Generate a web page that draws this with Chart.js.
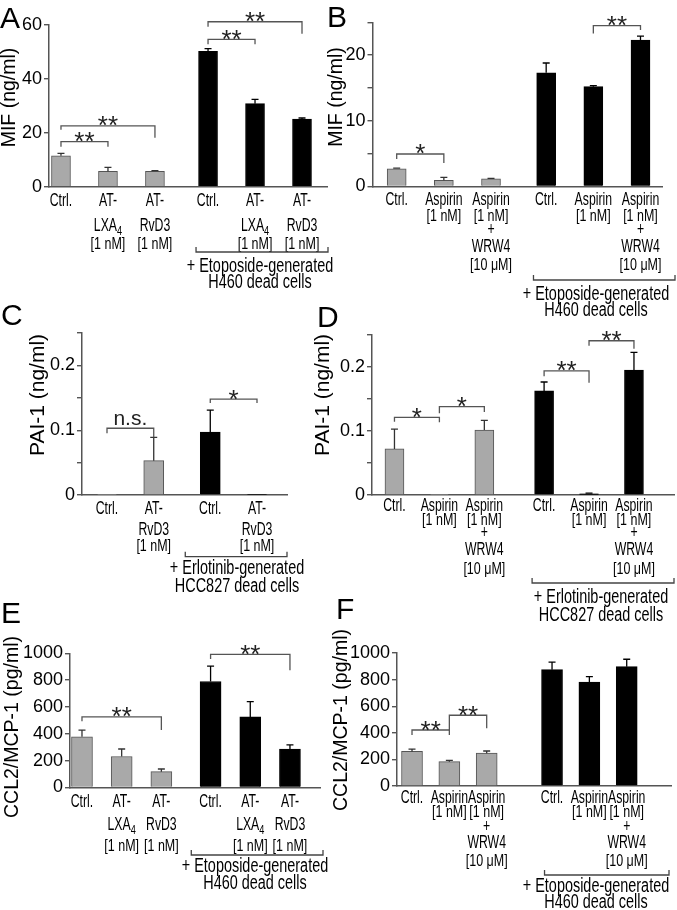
<!DOCTYPE html>
<html>
<head>
<meta charset="utf-8">
<script src="https://cdn.jsdelivr.net/npm/chart.js@4.4.0/dist/chart.umd.min.js"></script>
<style>
  html, body { margin: 0; padding: 0; background: #fff; }
  #wrap { position: relative; width: 677px; height: 910px; overflow: hidden; }
  #wrap canvas { position: absolute; left: 0; top: 0; }
</style>
</head>
<body>
<div id="wrap">
  <canvas id="cA" width="677" height="910"></canvas>
  <canvas id="cB" width="677" height="910"></canvas>
  <canvas id="cC" width="677" height="910"></canvas>
  <canvas id="cD" width="677" height="910"></canvas>
  <canvas id="cE" width="677" height="910"></canvas>
  <canvas id="cF" width="677" height="910"></canvas>
</div>
<script>
// categories (one array of text lines per bar, "_" marks a subscript)
const catsLipid = [['Ctrl.'], ['AT-', 'LXA_4', '[1 nM]'], ['AT-', 'RvD3', '[1 nM]'],
                   ['Ctrl.'], ['AT-', 'LXA_4', '[1 nM]'], ['AT-', 'RvD3', '[1 nM]']];
const catsAspirin = [['Ctrl.'], ['Aspirin', '[1 nM]'], ['Aspirin', '[1 nM]', '+', 'WRW4', '[10 μM]'],
                     ['Ctrl.'], ['Aspirin', '[1 nM]'], ['Aspirin', '[1 nM]', '+', 'WRW4', '[10 μM]']];
const catsRvD3 = [['Ctrl.'], ['AT-', 'RvD3', '[1 nM]'], ['Ctrl.'], ['AT-', 'RvD3', '[1 nM]']];
const groupsSix = [0, 0, 0, 1, 1, 1];   // 0 = untreated, 1 = + dead cells
const groupsFour = [0, 0, 1, 1];
const captionEtoposide = ['+ Etoposide-generated', 'H460 dead cells'];
const captionErlotinib = ['+ Erlotinib-generated', 'HCC827 dead cells'];

// values (mean) and error (upper SEM)
const mifA = [11.5, 5.7, 5.7, 50.2, 30.8, 25.1];
const mifAErr = [0.9, 1.5, 0.3, 1.0, 1.6, 0.4];
const mifB = [2.7, 0.95, 1.15, 17.3, 15.2, 22.3];
const mifBErr = [0.1, 0.45, 0.1, 1.5, 0.15, 0.6];
const paiC = [0.001, 0.053, 0.097, 0.001];
const paiCErr = [0, 0.036, 0.034, 0];
const paiD = [0.072, 0.001, 0.1015, 0.1626, 0.002, 0.195];
const paiDErr = [0.031, 0, 0.015, 0.014, 0.001, 0.028];
const ccl2E = [378, 231, 118, 790, 526, 287];
const ccl2EErr = [50, 56, 20, 114, 114, 30];
const ccl2F = [260, 183, 247, 875, 782, 897];
const ccl2FErr = [17, 10, 16, 56, 40, 56];

// significance: [from bar, to bar, mark]
const sigA = [[0, 1, '**'], [0, 2, '**'], [3, 4, '**'], [3, 5, '**']];
const sigB = [[0, 1, '*'], [4, 5, '**']];
const sigC = [[0, 1, 'n.s.'], [2, 3, '*']];
const sigD = [[0, 1, '*'], [1, 2, '*'], [3, 4, '**'], [4, 5, '**']];
const sigE = [[0, 2, '**'], [3, 5, '**']];
const sigF = [[0, 1, '**'], [1, 2, '**']];

// labelled y ticks
const ticksMifA = ['0', '20', '40', '60'];
const ticksMifB = ['0', '10', '20'];
const ticksPai = ['0', '0.1', '0.2'];
const ticksCcl2 = ['0', '200', '400', '600', '800', '1000'];

// ---- layout (pixels / positions only) ----
const layoutA = { area: [49, 25, 327, 186.7], xMin: -0.255, xMax: 5.662, gap: 0.13, bar: 19,
  brackets: [{ y: 16.7, l: 5, r: 5 }, { y: 22.6, l: 4, r: 12 }, { y: 54.7, l: 5, r: 5 }, { y: 61.2, l: 5, r: 12 }],
  lines: [14.5, 39, 58], gx0: -12, gx1: 1, gy: 65.3, capY: [80.3, 96.3], capX: 260,
  title: [10, 97.5, 19.5], letter: [0, 28] };
const layoutB = { area: [372.5, 22.3, 662, 186.5], xMin: -0.513, xMax: 5.626, gap: 0.17, bar: 19,
  brackets: [{ y: 4.95, l: 5, r: 9 }, { y: 24.5, l: 8, r: 4.5 }],
  lines: [13.5, 30, 43.5, 60.5, 79.5], gx0: -12.7, gx1: 13, gy: 93.5, capY: [108.5, 124.5], capX: 596,
  title: [337, 97, 19.5], letter: [327, 27] };
const layoutC = { area: [82, 333, 287, 495], xMin: -0.535, xMax: 3.852, gap: 0.21, bar: 20,
  brackets: [{ y: 0.103, l: 5, r: 9 }, { y: 0.148, l: 4, r: 4 }],
  lines: [14, 35, 52], gx0: -25, gx1: 0, gy: 61.7, capY: [74, 92], capX: 237,
  title: [38, 395, 21], letter: [1, 325] };
const layoutD = { area: [372, 335, 674, 495], xMin: -0.5, xMax: 6.221, gap: 0.33, bar: 19,
  brackets: [{ y: 0.1214, l: 4.5, r: 5 }, { y: 0.138, l: 6.5, r: 5.3 }, { y: 0.194, l: 5.3, r: 12 }, { y: 0.241, l: 5, r: 8 }],
  lines: [11, 26, 38, 55, 75], gx0: -12, gx1: 0, gy: 88, capY: [103, 121], capX: 601,
  title: [323, 395, 21], letter: [317, 327] };
const layoutE = { area: [70, 653.3, 320, 787.5], xMin: -0.302, xMax: 5.997, gap: 0.24, bar: 21,
  brackets: [{ y: 527, l: 4.5, r: 13.3 }, { y: 992, l: 4.7, r: 16 }],
  lines: [15, 38, 59], gx0: -19.3, gx1: 3, gy: 67.5, capY: [79, 96.5], capX: 255,
  title: [12.5, 727, 19.5], letter: [1, 623] };
const layoutF = { area: [397, 653, 671, 786], xMin: -0.402, xMax: 6.936, gap: 0.75, bar: 21,
  brackets: [{ y: 421, l: 5, r: 5 }, { y: 532, l: 15, r: 13 }],
  lines: [12, 27, 41, 57, 76], gx0: -7.5, gx1: -2, gy: 89, capY: [101, 117], capX: 596,
  title: [342, 720, 19.5], letter: [336, 619] };

const FONT = '"Liberation Sans", Arial, Helvetica, sans-serif';
const W = 677, H = 910;
Chart.defaults.font.family = FONT;

// draw condensed text centred at x, with optional subscript after "_"
function drawText(ctx, str, x, y, size, sx) {
  ctx.save();
  const k = str.indexOf('_');
  const main = k >= 0 ? str.slice(0, k) : str;
  const sub = k >= 0 ? str.slice(k + 1) : '';
  ctx.font = size + 'px ' + FONT;
  const wMain = ctx.measureText(main).width;
  ctx.font = (size * 0.75) + 'px ' + FONT;
  const wSub = sub ? ctx.measureText(sub).width : 0;
  const total = (wMain + wSub) * sx;
  ctx.translate(x - total / 2, y);
  ctx.scale(sx, 1);
  ctx.textAlign = 'left';
  ctx.textBaseline = 'middle';
  ctx.fillStyle = '#000';
  ctx.font = size + 'px ' + FONT;
  ctx.fillText(main, 0, 0);
  if (sub) {
    ctx.font = (size * 0.75) + 'px ' + FONT;
    ctx.fillText(sub, wMain, size * 0.3);
  }
  ctx.restore();
}

function makePanel(id, P) {
  const L = P.layout;
  const pos = P.values.map((v, i) => i + L.gap * P.groups[i]);
  const tickVals = P.ticks.map(Number);

  const annot = {
    id: 'annot' + id,
    afterDraw(chart) {
      const ctx = chart.ctx, xs = chart.scales.x, ys = chart.scales.y;
      const base = ys.getPixelForValue(0);
      const cx = i => xs.getPixelForValue(pos[i]);
      ctx.save();
      // error bars
      P.errors.forEach((e, i) => {
        if (!e) return;
        const x = cx(i);
        const y0 = ys.getPixelForValue(P.values[i]);
        const y1 = ys.getPixelForValue(P.values[i] + e);
        ctx.strokeStyle = P.groups[i] ? '#000' : '#333';
        ctx.lineWidth = 1.3;
        ctx.beginPath();
        ctx.moveTo(x, y0); ctx.lineTo(x, y1);
        ctx.moveTo(x - 3.5, y1); ctx.lineTo(x + 3.5, y1);
        ctx.stroke();
      });
      // significance brackets
      P.sig.forEach((s, k) => {
        const b = L.brackets[k];
        const xa = cx(s[0]), xb = cx(s[1]), y = ys.getPixelForValue(b.y);
        ctx.strokeStyle = '#555';
        ctx.lineWidth = 1.3;
        ctx.beginPath();
        ctx.moveTo(xa, y + b.l); ctx.lineTo(xa, y); ctx.lineTo(xb, y); ctx.lineTo(xb, y + b.r);
        ctx.stroke();
        ctx.fillStyle = '#222';
        ctx.textAlign = 'center';
        ctx.textBaseline = 'alphabetic';
        if (s[2] === 'n.s.') {
          ctx.font = '21px ' + FONT;
          ctx.fillText(s[2], (xa + xb) / 2, y - 3);
        } else {
          ctx.font = '26px ' + FONT;
          ctx.fillText(s[2], (xa + xb) / 2, y + 8.5);
        }
      });
      // category labels
      P.cats.forEach((lines, i) => lines.forEach((t, j) => {
        const small = t[0] === '[';
        drawText(ctx, t, cx(i), base + L.lines[j], small ? 16 : 17.5, small ? 0.78 : 0.7);
      }));
      // group bracket + caption
      const g = P.groups.indexOf(1);
      const gx0 = cx(g) + L.gx0, gx1 = chart.chartArea.right + L.gx1, gy = base + L.gy;
      ctx.strokeStyle = '#444';
      ctx.lineWidth = 1.3;
      ctx.beginPath();
      ctx.moveTo(gx0, gy - 5); ctx.lineTo(gx0, gy); ctx.lineTo(gx1, gy); ctx.lineTo(gx1, gy - 5);
      ctx.stroke();
      P.caption.forEach((t, j) => drawText(ctx, t, L.capX, base + L.capY[j], 19.5, 0.74));
      // y title
      ctx.save();
      ctx.translate(L.title[0], L.title[1]);
      ctx.rotate(-Math.PI / 2);
      ctx.font = L.title[2] + 'px ' + FONT;
      ctx.fillStyle = '#000';
      ctx.textAlign = 'center';
      ctx.textBaseline = 'middle';
      ctx.fillText(P.title, 0, 0);
      ctx.restore();
      // panel letter
      ctx.font = '30px ' + FONT;
      ctx.fillStyle = '#000';
      ctx.textAlign = 'left';
      ctx.textBaseline = 'alphabetic';
      ctx.fillText(P.letter, L.letter[0], L.letter[1]);
      ctx.restore();
    }
  };

  return new Chart(document.getElementById(id), {
    type: 'bar',
    data: {
      datasets: [{
        data: P.values.map((v, i) => ({ x: pos[i], y: v })),
        backgroundColor: P.groups.map(g => g ? '#000' : '#a9a9a9'),
        borderColor: P.groups.map(g => g ? '#000' : '#555'),
        borderWidth: 1,
        barThickness: L.bar
      }]
    },
    options: {
      responsive: false,
      animation: false,
      devicePixelRatio: 1,
      plugins: { legend: { display: false }, tooltip: { enabled: false } },
      layout: { padding: { left: 0, top: L.area[1], right: W - L.area[2], bottom: H - L.area[3] } },
      scales: {
        x: {
          type: 'linear', min: L.xMin, max: L.xMax, offset: false,
          grid: { display: false, drawTicks: false },
          ticks: { display: false },
          border: { display: true, color: '#555', width: 1.5 },
          afterFit: s => { s.height = 0; }
        },
        y: {
          min: 0, max: P.yMax,
          ticks: {
            stepSize: P.step, padding: 2, color: '#000', font: { size: 18 },
            callback: v => {
              const k = tickVals.findIndex(t => Math.abs(t - v) < 1e-9);
              return k >= 0 ? P.ticks[k] : '';
            }
          },
          grid: { drawOnChartArea: false, drawTicks: true, tickLength: 5, color: '#555', lineWidth: 1.4 },
          border: { display: true, color: '#555', width: 1.5 },
          afterFit: s => { s.width = L.area[0]; }
        }
      }
    },
    plugins: [annot]
  });
}

makePanel('cA', { cats: catsLipid, groups: groupsSix, values: mifA, errors: mifAErr, sig: sigA,
  ticks: ticksMifA, step: 20, yMax: 60, title: 'MIF (ng/ml)', letter: 'A', caption: captionEtoposide, layout: layoutA });
makePanel('cB', { cats: catsAspirin, groups: groupsSix, values: mifB, errors: mifBErr, sig: sigB,
  ticks: ticksMifB, step: 5, yMax: 25, title: 'MIF (ng/ml)', letter: 'B', caption: captionEtoposide, layout: layoutB });
makePanel('cC', { cats: catsRvD3, groups: groupsFour, values: paiC, errors: paiCErr, sig: sigC,
  ticks: ticksPai, step: 0.05, yMax: 0.25, title: 'PAI-1 (ng/ml)', letter: 'C', caption: captionErlotinib, layout: layoutC });
makePanel('cD', { cats: catsAspirin, groups: groupsSix, values: paiD, errors: paiDErr, sig: sigD,
  ticks: ticksPai, step: 0.05, yMax: 0.25, title: 'PAI-1 (ng/ml)', letter: 'D', caption: captionErlotinib, layout: layoutD });
makePanel('cE', { cats: catsLipid, groups: groupsSix, values: ccl2E, errors: ccl2EErr, sig: sigE,
  ticks: ticksCcl2, step: 200, yMax: 1000, title: 'CCL2/MCP-1 (pg/ml)', letter: 'E', caption: captionEtoposide, layout: layoutE });
makePanel('cF', { cats: catsAspirin, groups: groupsSix, values: ccl2F, errors: ccl2FErr, sig: sigF,
  ticks: ticksCcl2, step: 200, yMax: 1000, title: 'CCL2/MCP-1 (pg/ml)', letter: 'F', caption: captionEtoposide, layout: layoutF });
</script>
</body>
</html>
